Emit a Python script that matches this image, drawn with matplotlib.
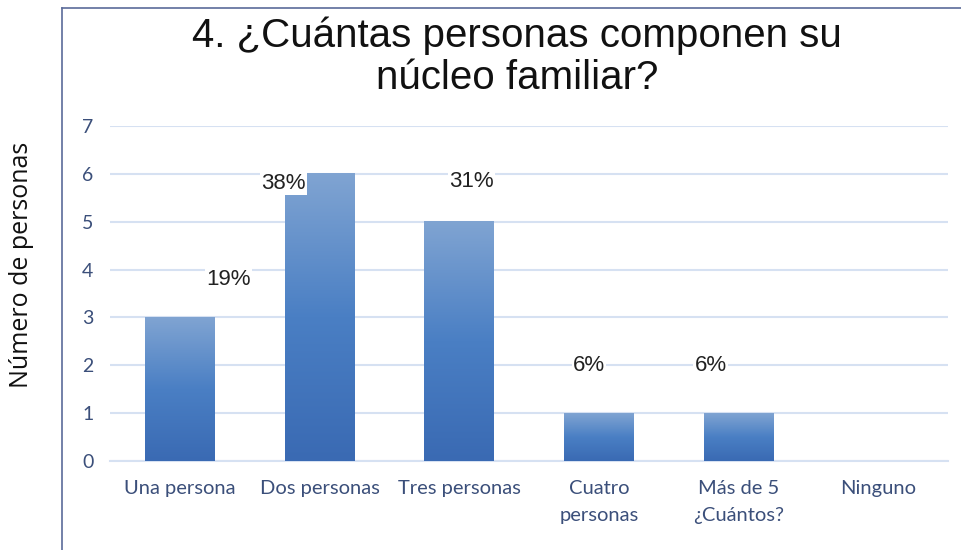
import matplotlib.pyplot as plt
import numpy as np
from matplotlib.colors import LinearSegmentedColormap
from matplotlib.lines import Line2D

categorias = ['Una persona', 'Dos personas', 'Tres personas', 'Cuatro\npersonas', 'Más de 5\n¿Cuántos?', 'Ninguno']
valores = [3, 6, 5, 1, 1, 0]
etiquetas = ['19%', '38%', '31%', '6%', '6%', '']
# where the percentage labels sit (x offset in category units, y in data units)
pos_etiquetas = [(0.35, 3.8), (-0.26, 5.8), (0.09, 5.85), (-0.07, 2.0), (-0.2, 2.0), (0, 0)]

fig = plt.figure(figsize=(9.62, 5.5), dpi=100)
ax = fig.add_axes([110/962, 1-461/550, 838/962, 335/550])

cmap = LinearSegmentedColormap.from_list('g', ['#3a6ab3', '#4a7fc4', '#80a4d2'])
grad = np.linspace(0, 1, 256).reshape(-1, 1)
x = np.arange(len(categorias))
ancho = 0.5
for xi, v in zip(x, valores):
    if v <= 0:
        continue
    ax.imshow(grad, cmap=cmap, origin='lower', aspect='auto',
              extent=(xi - ancho/2, xi + ancho/2, 0, v), zorder=3)

for xi, v, t, (dx, yy) in zip(x, valores, etiquetas, pos_etiquetas):
    if t:
        ax.text(xi + dx, yy, t, ha='center', va='center', fontsize=16,
                family='Liberation Sans', color='#222222', zorder=5,
                bbox=dict(facecolor='white', edgecolor='none', pad=1.0))

ax.set_xlim(-0.5, len(categorias) - 0.5)
ax.set_ylim(0, 7)
ax.set_yticks(range(8))
ax.set_xticks(x)
ax.set_xticklabels(categorias, family='Lato', fontsize=14.5, color='#3b4f7a', linespacing=1.65)
for lab in ax.get_yticklabels():
    lab.set_family('Lato')
    lab.set_fontsize(14)
    lab.set_color('#3b4f7a')
ax.tick_params(length=0, pad=12)
ax.tick_params(axis='x', pad=14)
ax.grid(axis='y', color='#d6e1f2', linewidth=1.5, zorder=0)
ax.set_axisbelow(True)
for s in ['top', 'right', 'left']:
    ax.spines[s].set_visible(False)
ax.spines['bottom'].set_color('#d6e1f2')
ax.spines['bottom'].set_linewidth(1.5)

fig.text(517/962, 1-57/550, '4. ¿Cuántas personas componen su\nnúcleo familiar?', ha='center', va='center',
         fontsize=29, family='Liberation Sans', color='#111111', linespacing=1.12)
fig.text(22/962, 1-265/550, 'Número de personas', rotation=90, ha='center', va='center',
         fontsize=18, family='Open Sans', color='#111111')

# chart frame (left and top edges)
fig.add_artist(Line2D([62/962, 62/962], [0, 1-8/550], color='#5b6b9a', linewidth=1.2))
fig.add_artist(Line2D([62/962, 1], [1-8/550, 1-8/550], color='#5b6b9a', linewidth=1.2))

fig.savefig('out.png', dpi=100)
